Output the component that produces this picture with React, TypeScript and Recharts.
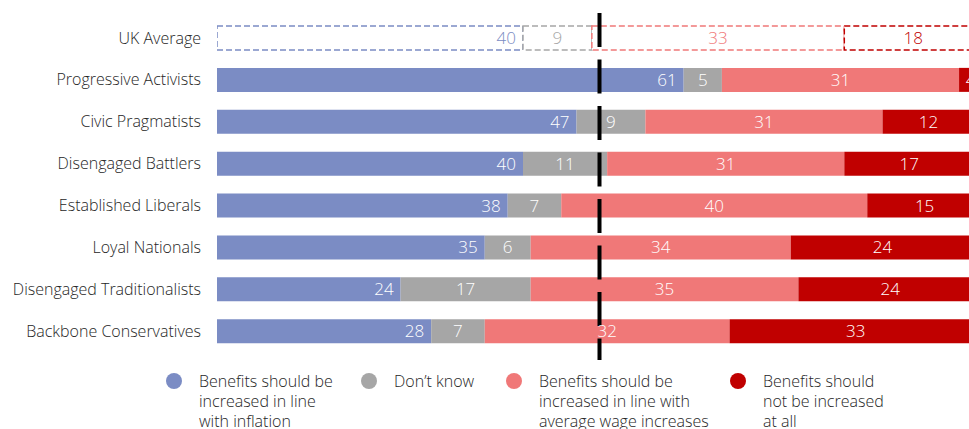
import { BarChart, Bar, XAxis, YAxis, Cell, LabelList, ReferenceLine } from 'recharts';

const categories = [
  'UK Average',
  'Progressive Activists',
  'Civic Pragmatists',
  'Disengaged Battlers',
  'Established Liberals',
  'Loyal Nationals',
  'Disengaged Traditionalists',
  'Backbone Conservatives',
];
const inflation = [40, 61, 47, 40, 38, 35, 24, 28];
const dontKnow = [9, 5, 9, 11, 7, 6, 17, 7];
const wages = [33, 31, 31, 31, 40, 34, 35, 32];
const notIncreased = [18, 4, 12, 17, 15, 24, 24, 33];

const seriesNames = [
  'Benefits should be\nincreased in line\nwith inflation',
  'Don\u2019t know',
  'Benefits should be\nincreased in line with\naverage wage increases',
  'Benefits should\nnot be increased\nat all',
];

const FONT = '"Open Sans", Lato, sans-serif';
const colors = ['#7b8cc4', '#a6a6a6', '#f07878', '#c00000'];

const data = categories.map((name, i) => ({
  name,
  inflation: inflation[i],
  dontKnow: dontKnow[i],
  wages: wages[i],
  notIncreased: notIncreased[i],
}));

const series = [
  { key: 'inflation', color: colors[0], align: 'right' },
  { key: 'dontKnow', color: colors[1], align: 'center' },
  { key: 'wages', color: colors[2], align: 'center' },
  { key: 'notIncreased', color: colors[3], align: 'center' },
];

// labels: white on solid bars, series colour on the dashed UK average row
const makeLabel = (color: string, align: string) => (props: any) => {
  const { x, y, width, height, value, index } = props;
  const avg = index === 0;
  const tx = align === 'right' ? x + width - 7 : x + width / 2;
  return (
    <text
      x={tx}
      y={y + height / 2}
      dy="0.36em"
      textAnchor={align === 'right' ? 'end' : 'middle'}
      fill={avg ? color : '#fff'}
      fontSize={17}
      fontWeight={300}
      fontFamily={FONT}
    >
      {value}
    </text>
  );
};

// the 50% marker is a thick dashed line that runs a bit past the plot
const DashedMarker = (props: any) => {
  const { x1, x2, y1, y2 } = props;
  const top = Math.min(y1, y2);
  const bottom = Math.max(y1, y2);
  return (
    <line
      x1={x1}
      x2={x2}
      y1={top - 4}
      y2={bottom + 8}
      stroke="#000"
      strokeWidth={4}
      strokeDasharray="34 12.5"
    />
  );
};

const legendLeft = [166, 361, 506, 730];

export default function App() {
  return (
    <div
      style={{
        position: 'absolute',
        left: 0,
        top: 0,
        width: 969,
        height: 429,
        overflow: 'hidden',
        background: '#fff',
      }}
    >
      <BarChart
        layout="vertical"
        width={1000}
        height={370}
        data={data}
        barSize={24}
        margin={{ top: 17, right: 18, bottom: 18, left: 0 }}
      >
        <XAxis type="number" domain={[0, 100]} allowDataOverflow hide />
        <YAxis
          type="category"
          dataKey="name"
          width={217}
          axisLine={false}
          tickLine={false}
          tickMargin={10}
          tick={{ fill: '#262626', fontSize: 16, fontWeight: 300, fontFamily: FONT }}
        />
        {series.map((s) => (
          <Bar key={s.key} dataKey={s.key} stackId="a" fill={s.color} isAnimationActive={false}>
            {data.map((d, i) =>
              i === 0 ? (
                <Cell
                  key={i}
                  fill="#fff"
                  stroke={s.color}
                  strokeWidth={1.5}
                  strokeDasharray="6 3"
                />
              ) : (
                <Cell key={i} fill={s.color} />
              )
            )}
            <LabelList dataKey={s.key} content={makeLabel(s.color, s.align)} />
          </Bar>
        ))}
        <ReferenceLine x={50} shape={DashedMarker} ifOverflow="visible" />
      </BarChart>
      {seriesNames.map((name, i) => (
        <div
          key={i}
          style={{
            position: 'absolute',
            left: legendLeft[i],
            top: 371,
            display: 'flex',
            alignItems: 'flex-start',
            fontFamily: FONT,
            fontWeight: 300,
            fontSize: 16,
            lineHeight: '20px',
            color: '#262626',
          }}
        >
          <span
            style={{
              width: 16,
              height: 16,
              borderRadius: 8,
              background: colors[i],
              marginTop: 2,
              marginRight: 17,
              flexShrink: 0,
            }}
          />
          <span style={{ whiteSpace: 'pre-line' }}>{name}</span>
        </div>
      ))}
    </div>
  );
}
